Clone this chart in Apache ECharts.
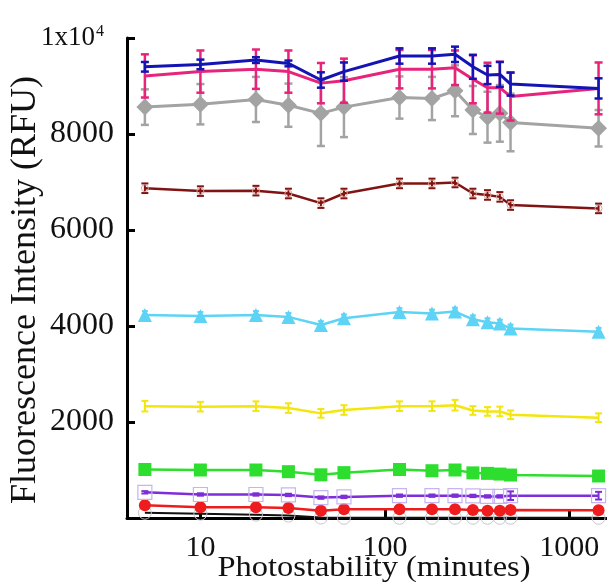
<!DOCTYPE html>
<html>
<head>
<meta charset="utf-8">
<script src="https://cdn.jsdelivr.net/npm/echarts@6/dist/echarts.min.js"></script>
<style>html,body{margin:0;padding:0;background:#fff}#c{width:607px;height:582px}</style>
</head>
<body>
<div id="c"></div>
<script>
var times = [5, 10, 20, 30, 45, 60, 120, 180, 240, 300, 360, 420, 480, 1440];

var blue      = [9400, 9450, 9540, 9470, 9125, 9300, 9625, 9625, 9660, 9400, 9230, 9240, 9040, 8950];
var blueErr   = [100, 100, 60, 60, 160, 190, 160, 160, 160, 250, 190, 260, 240, 210];
var pink      = [9210, 9300, 9350, 9300, 9060, 9110, 9350, 9350, 9380, 9140, 8965, 8965, 8780, 8950];
var pinkErr   = [450, 440, 410, 440, 420, 460, 400, 400, 360, 500, 520, 540, 500, 540];
var gray      = [8560, 8620, 8720, 8600, 8430, 8560, 8760, 8740, 8900, 8500, 8350, 8430, 8240, 8120];
var grayErr   = [370, 420, 470, 450, 680, 625, 440, 450, 530, 500, 530, 590, 600, 380];
var darkred   = [6870, 6810, 6820, 6760, 6560, 6760, 6970, 6970, 6990, 6760, 6730, 6690, 6520, 6450];
var darkredErr= [100, 100, 100, 100, 100, 100, 100, 100, 100, 100, 100, 100, 100, 100];
var lightblue = [4230, 4210, 4230, 4190, 4020, 4160, 4290, 4260, 4300, 4140, 4080, 4050, 3950, 3880];
var lightblueErr = [80, 80, 80, 80, 80, 80, 80, 80, 80, 80, 80, 80, 80, 80];
var yellow    = [2330, 2320, 2330, 2290, 2180, 2250, 2330, 2330, 2350, 2240, 2220, 2220, 2150, 2090];
var yellowErr = [110, 100, 100, 100, 90, 100, 100, 100, 110, 90, 90, 100, 90, 90];
var green     = [1010, 1000, 1000, 965, 900, 945, 1010, 985, 1000, 940, 930, 915, 895, 875];
var greenErr  = [40, 40, 40, 40, 40, 40, 40, 40, 40, 40, 40, 40, 40, 40];
var purple    = [535, 490, 490, 480, 425, 440, 465, 465, 465, 460, 450, 450, 465, 465];
var purpleErr = [25, 25, 25, 25, 25, 25, 25, 25, 25, 25, 25, 25, 90, 80];
var red       = [265, 222, 222, 208, 153, 181, 181, 181, 181, 167, 153, 153, 167, 160];
var redErr    = [30, 30, 30, 30, 30, 30, 30, 30, 30, 30, 30, 30, 30, 30];
var black     = [110, 90, 70, 50, 10, 5, 5, 5, 5, 5, 5, 5, 5, 5];

var xTicks = [10, 100, 1000];
var yTicks = [2000, 4000, 6000, 8000, 10000];
var xTitle = 'Photostability (minutes)';
var yTitle = 'Fluorescence Intensity (RFU)';

var FONT = 'Liberation Serif';

function pairs(vals) { return times.map(function (t, i) { return [t, vals[i]]; }); }

function lineSeries(name, vals, color, width, symbol, size, itemStyle, z) {
  return {
    name: name, type: 'line', data: pairs(vals),
    lineStyle: { color: color, width: width },
    symbol: symbol || 'none', symbolSize: size || 0,
    showSymbol: !!symbol,
    itemStyle: itemStyle || { color: color },
    z: z, animation: false
  };
}

function errSeries(vals, errs, color, width, cap, z) {
  return {
    type: 'custom', z: z, animation: false, silent: true,
    data: times.map(function (t, i) { return [t, vals[i] - errs[i], vals[i] + errs[i]]; }),
    renderItem: function (params, api) {
      var lo = api.coord([api.value(0), api.value(1)]);
      var hi = api.coord([api.value(0), api.value(2)]);
      var st = { stroke: color, lineWidth: width };
      return {
        type: 'group',
        children: [
          { type: 'line', shape: { x1: lo[0], y1: lo[1], x2: hi[0], y2: hi[1] }, style: st },
          { type: 'line', shape: { x1: lo[0] - cap, y1: lo[1], x2: lo[0] + cap, y2: lo[1] }, style: st },
          { type: 'line', shape: { x1: hi[0] - cap, y1: hi[1], x2: hi[0] + cap, y2: hi[1] }, style: st }
        ]
      };
    }
  };
}

var C = {
  blue: '#1414b4', pink: '#e8237a', gray: '#a3a3a3', darkred: '#801414',
  lightblue: '#5dd3f5', yellow: '#f2e60c', green: '#2ede2e', purple: '#7e2ed8',
  red: '#ee1c1c', black: '#111111'
};

var chart = echarts.init(document.getElementById('c'), null, { renderer: 'canvas' });
chart.setOption({
  backgroundColor: '#fff',
  animation: false,
  grid: { left: 127, right: 0, top: 38, bottom: 64, containLabel: false, outerBoundsMode: 'none' },
  graphic: [{
    type: 'text', x: 26, y: 290, rotation: Math.PI / 2, silent: true,
    style: { text: yTitle, fontFamily: FONT, fontSize: 36, fill: '#111', align: 'center', verticalAlign: 'middle' }
  }, {
    type: 'text', x: 374, y: 568, scaleX: 1.12, silent: true,
    style: { text: xTitle, fontFamily: FONT, fontSize: 29, fill: '#111', align: 'center', verticalAlign: 'middle' }
  }],
  xAxis: {
    type: 'log', logBase: 10, min: 4, max: 1600,
    axisLine: { show: true, onZero: false, lineStyle: { color: '#000', width: 3 } },
    axisTick: { show: true, inside: true, length: 8, lineStyle: { color: '#000', width: 3 }, customValues: xTicks },
    minorTick: { show: false },
    axisLabel: { fontFamily: FONT, fontSize: 30, color: '#111', margin: 15, customValues: xTicks,
      formatter: function (v) { return String(Math.round(v)); } },
    splitLine: { show: false }
  },
  yAxis: {
    type: 'value', min: 0, max: 10000, interval: 2000,
    axisLine: { show: true, lineStyle: { color: '#000', width: 3 } },
    axisTick: { show: true, inside: true, length: 8, lineStyle: { color: '#000', width: 3 }, customValues: yTicks },
    axisLabel: {
      fontFamily: FONT, fontSize: 32, color: '#111', margin: 13, customValues: yTicks,
      formatter: function (v) { return v === 10000 ? '{b|1x10}{sup|4}' : String(v); },
      rich: {
        b: { fontFamily: FONT, fontSize: 27, color: '#111' },
        sup: { fontFamily: FONT, fontSize: 16, color: '#111', verticalAlign: 'top', padding: [0, 10, 12, 1] }
      }
    },
    splitLine: { show: false }
  },
  series: [
    lineSeries('black', black, C.black, 2, 'circle', 13, { color: 'rgba(0,0,0,0)', borderColor: '#c8c8d0', borderWidth: 1 }, 2),
    errSeries(red, redErr, C.red, 1.5, 3, 3),
    lineSeries('red', red, C.red, 2.5, 'circle', 12, { color: C.red }, 3),
    errSeries(purple, purpleErr, C.purple, 2, 3.5, 4),
    lineSeries('purple', purple, C.purple, 2.5, 'rect', 14, { color: 'rgba(0,0,0,0)', borderColor: '#c6b4f2', borderWidth: 1.2 }, 4),
    errSeries(green, greenErr, C.green, 2, 3, 5),
    lineSeries('green', green, C.green, 2.5, 'rect', 13, { color: C.green }, 5),
    errSeries(yellow, yellowErr, C.yellow, 2, 3.5, 6),
    lineSeries('yellow', yellow, C.yellow, 2.5, null, 0, null, 6),
    errSeries(lightblue, lightblueErr, C.lightblue, 2, 3, 7),
    lineSeries('lightblue', lightblue, C.lightblue, 2.5, 'triangle', 14, { color: C.lightblue }, 7),
    errSeries(darkred, darkredErr, C.darkred, 2, 3.5, 8),
    lineSeries('darkred', darkred, C.darkred, 2.5, 'circle', 7, { color: 'rgba(0,0,0,0)', borderColor: '#e2a898', borderWidth: 1 }, 8),
    errSeries(gray, grayErr, C.gray, 2.5, 4, 9),
    lineSeries('gray', gray, C.gray, 3, 'diamond', 17, { color: C.gray }, 9),
    errSeries(pink, pinkErr, C.pink, 2.5, 4, 10),
    lineSeries('pink', pink, C.pink, 3, null, 0, null, 10),
    errSeries(blue, blueErr, C.blue, 2.5, 4, 11),
    lineSeries('blue', blue, C.blue, 3, null, 0, null, 11)
  ]
});
</script>
</body>
</html>
